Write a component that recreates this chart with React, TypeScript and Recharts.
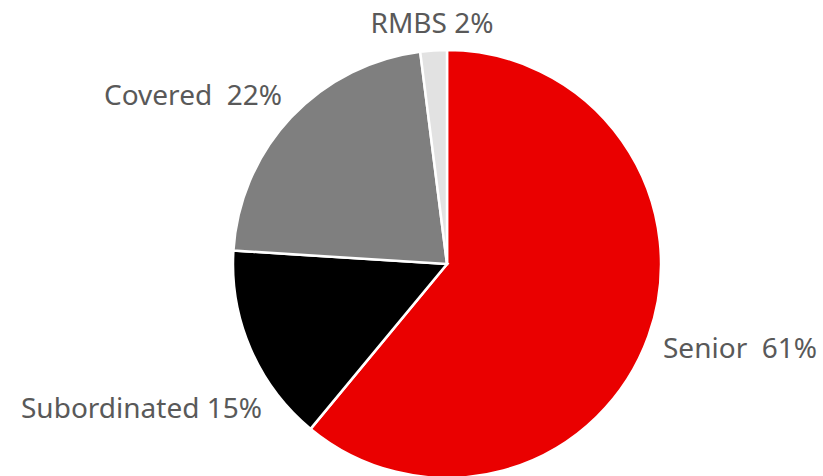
import React from 'react';
import { PieChart, Pie, Cell } from 'recharts';

const categories = ['Senior', 'Subordinated', 'Covered', 'RMBS'];
const shares = [61, 15, 22, 2];
const labelTexts = ['Senior  61%', 'Subordinated 15%', 'Covered  22%', 'RMBS 2%'];
const colors = ['#EA0000', '#000000', '#7F7F7F', '#E2E2E2'];

const data = categories.map((name, i) => ({ name, value: shares[i], label: labelTexts[i] }));

// label placement relative to pie centre (Excel "best fit" style)
const labelPlacement: Record<string, { dx: number; dy: number; anchor: 'start' | 'middle' | 'end' }> = {
  Senior: { dx: 216, dy: 94, anchor: 'start' },
  Subordinated: { dx: -185, dy: 154, anchor: 'end' },
  Covered: { dx: -165, dy: -159, anchor: 'end' },
  RMBS: { dx: -15, dy: -231, anchor: 'middle' },
};

const renderLabel = (props: any) => {
  const { cx, cy, index } = props;
  const name = categories[index];
  const p = labelPlacement[name];
  return (
    <text
      x={cx + p.dx}
      y={cy + p.dy}
      textAnchor={p.anchor}
      fill="#595959"
      fontSize={28}
      fontFamily="'Noto Sans', sans-serif"
      style={{ whiteSpace: 'pre' }}
    >
      {labelTexts[index]}
    </text>
  );
};

export default function App() {
  return (
    <div style={{ position: 'absolute', left: 0, top: 0, width: 823, height: 476, background: '#fff' }}>
      <PieChart width={823} height={476} margin={{ top: 0, right: 0, bottom: 0, left: 0 }}>
        <Pie
          data={data}
          dataKey="value"
          nameKey="name"
          cx={447}
          cy={264}
          outerRadius={214}
          startAngle={90}
          endAngle={-270}
          stroke="#FFFFFF"
          strokeWidth={2.5}
          label={renderLabel}
          labelLine={false}
          isAnimationActive={false}
        >
          {data.map((d, i) => (
            <Cell key={d.name} fill={colors[i]} />
          ))}
        </Pie>
      </PieChart>
    </div>
  );
}
